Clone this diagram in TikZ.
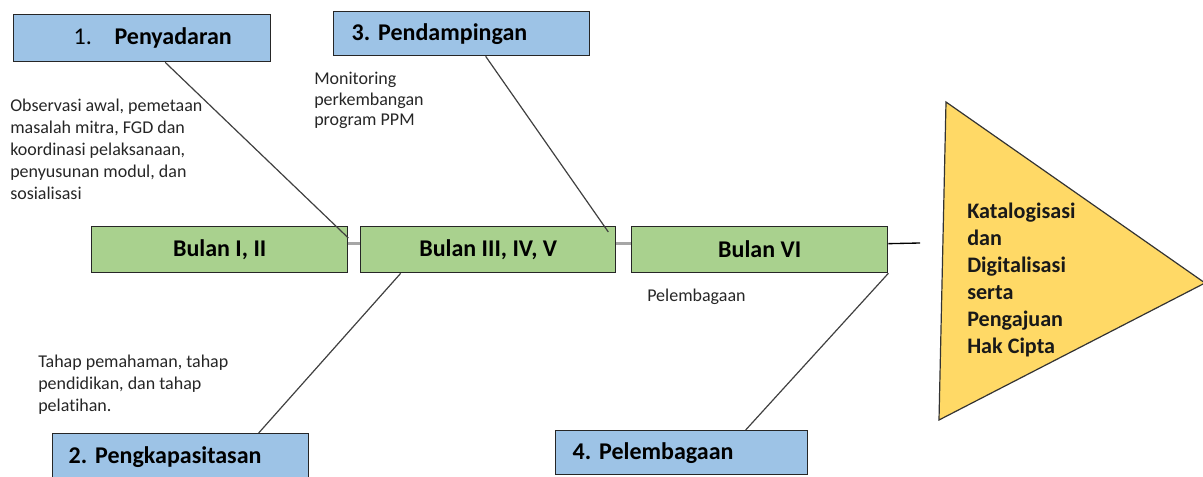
\documentclass[tikz,border=0pt]{standalone}
\usepackage{fontspec}
\setmainfont{Carlito}[Ligatures=NoCommon]
\usetikzlibrary{calc}
\definecolor{boxblue}{HTML}{9DC3E6}
\definecolor{boxgreen}{HTML}{A9D18E}
\definecolor{triyellow}{HTML}{FFD966}
\definecolor{spinegray}{HTML}{A6A6A6}
\newcommand\boxfont{\fontsize{18pt}{21pt}\selectfont\bfseries}
\newcommand\goalfont{\fontsize{16.6pt}{20.25pt}\selectfont\bfseries}
\newcommand\notefont{\fontsize{13.5pt}{16.5pt}\selectfont}
\frenchspacing
\begin{document}
\begin{tikzpicture}[x=0.75pt,y=-0.75pt,
  phasebox/.style={draw=black!85, line width=1pt, fill=boxblue, anchor=north west,
    inner ysep=0pt, align=left, font=\boxfont},
  monthbox/.style={draw=black!85, line width=1pt, fill=boxgreen, anchor=north west,
    inner sep=0pt, minimum width=192pt, minimum height=34.5pt, font=\boxfont},
  conn/.style={draw=black!75, line width=0.9pt},
  spine/.style={draw=spinegray, line width=2pt},
  note/.style={anchor=north west, inner sep=0pt, align=left, font=\notefont, text=black!85},
]
\useasboundingbox (0,0) rectangle (1203,477);
\clip (0,0) rectangle (1203,477);

% phase boxes
\node[phasebox, inner xsep=12pt, text width=168.75pt, minimum height=35.25pt] (p1) at (13,14)
  {\hspace*{33pt}{\mdseries 1.}\hspace{17pt}Penyadaran};
\node[phasebox, inner xsep=13.5pt, text width=165pt, minimum height=33pt] (p3) at (333,11)
  {3. Pendampingan};
\node[phasebox, inner xsep=12pt, text width=168pt, minimum height=34.5pt] (p2) at (52,433)
  {2. Pengkapasitasan};
\node[phasebox, inner xsep=12.75pt, text width=163.5pt, minimum height=33pt] (p4) at (555,430)
  {4. Pelembagaan};

% month boxes
\node[monthbox] (bA) at (91,226) {Bulan I, II};
\node[monthbox, minimum width=191.25pt] (bB) at (360,226) {Bulan III, IV, V};
\node[monthbox] (bC) at (631,226) {Bulan VI};

% spine
\coordinate (spineend) at (920,243);
\draw[spine] ($(bA.east)+(0,-6)$) -- ($(bB.west)+(0,-6)$);
\draw[spine] ($(bB.east)+(0,-6)$) -- ($(bC.west)+(0,-6)$);
\draw[conn, line width=1pt, draw=black] ($(bC.east)+(0,-6)$) -- (spineend);

% goal triangle
\draw[fill=triyellow, draw=black!80, line width=0.9pt] (946,102) -- (1205,283) -- (939,420) -- cycle;
\node[anchor=north west, inner sep=0pt, align=left, font=\goalfont, text=black!90] (goal) at (967,203)
  {Katalogisasi\\dan\\Digitalisasi\\serta\\Pengajuan\\Hak Cipta};

% bones
\draw[conn] ($(p1.south)+(23,0)$) -- ($(bA.north east)+(0,12)$);
\draw[conn] ($(p3.south)+(24,0)$) -- ($(bB.north east)+(-8,6)$);
\draw[conn] ($(bB.south)+(-87.5,0)$) -- ($(p2.north)+(78,0)$);
\draw[conn] (bC.south east) -- ($(p4.north)+(64,0)$);

% notes
\node[note] (n1) at (10,99)
  {Observasi awal, pemetaan\\masalah mitra, FGD dan\\koordinasi pelaksanaan,\\penyusunan modul, dan\\sosialisasi};
\node[note, font=\fontsize{13.5pt}{15.4pt}\selectfont] (n3) at (314,72)
  {Monitoring\\perkembangan\\program PPM};
\node[note] (n2) at (38,355)
  {Tahap pemahaman, tahap\\pendidikan, dan tahap\\pelatihan.};
\node[note] (n4) at (647,289) {Pelembagaan};
\end{tikzpicture}
\end{document}
